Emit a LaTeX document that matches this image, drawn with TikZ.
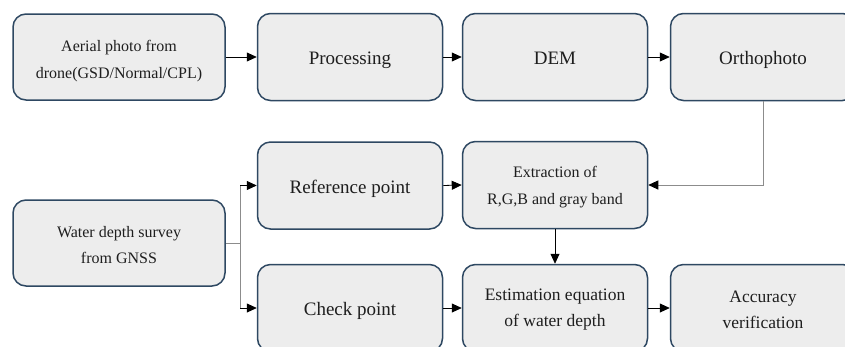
\documentclass[tikz,border=0pt]{standalone}
\usepackage{fontspec}
\setmainfont{Liberation Serif}
\usetikzlibrary{arrows.meta}
\definecolor{boxfill}{HTML}{EDEDED}
\definecolor{boxline}{HTML}{2E4862}
\definecolor{txt}{HTML}{1E1E1E}
\definecolor{lgray}{HTML}{8C8C8C}
\tikzset{
  stepbox/.style={draw=boxline, line width=1.5pt, fill=boxfill, rounded corners=13pt,
    minimum width=185pt, minimum height=87pt, inner sep=0pt, align=center, text=txt},
  widebox/.style={stepbox, minimum width=212pt, minimum height=86pt},
  txtnode/.style={inner sep=0pt, align=center, text=txt},
  bigtxt/.style={font=\fontsize{19}{24}\selectfont, text height=18pt, text depth=2.5pt},
  midtxt/.style={font=\fontsize{17.5}{26}\selectfont},
  smalltxt/.style={font=\fontsize{16}{26.5}\selectfont},
  arr/.style={draw=black, line width=0.8pt, -{Triangle[length=10pt,width=9pt]}},
  garr/.style={draw=lgray, line width=0.9pt, -{Triangle[length=10pt,width=9pt,fill=black,color=black]}},
  gline/.style={draw=lgray, line width=0.9pt}
}
\begin{document}
\begin{tikzpicture}[x=1pt,y=-1pt]
\useasboundingbox (0,0) rectangle (845,346);
\node[widebox] (aerial) at (119,57) {};
\node[txtnode, smalltxt] (aerialT) at ([yshift=-4pt]aerial.center) {Aerial photo from\\drone(GSD/Normal/CPL)};
\node[stepbox, bigtxt] (proc) at (350,57) {Processing};
\node[stepbox, bigtxt] (dem) at (555,57) {DEM};
\node[stepbox, bigtxt] (ortho) at (763,57) {Orthophoto};
\node[stepbox, bigtxt] (ref) at (350,185.5) {Reference point};
\node[stepbox] (extr) at (555,185) {};
\node[txtnode, smalltxt] (extrT) at ([yshift=-2pt]extr.center) {Extraction of\\R,G,B and gray band};
\node[widebox] (water) at (119,243) {};
\node[txtnode, smalltxt] (waterT) at ([yshift=-2pt]water.center) {Water depth survey\\from GNSS};
\node[stepbox, bigtxt] (check) at (350,308) {Check point};
\node[stepbox] (est) at (555,308) {};
\node[txtnode, midtxt] (estT) at ([yshift=-1.5pt]est.center) {Estimation equation\\of water depth};
\node[stepbox] (acc) at (763,308) {};
\node[txtnode, midtxt] (accT) at ([yshift=-1.5pt]acc.center) {Accuracy\\verification};
\coordinate (jm) at (240,243);
\coordinate (jt) at (240,185.5);
\coordinate (jb) at (240,308);
\coordinate (oc) at (763,185);
\draw[arr] (aerial.east) -- (proc.west);
\draw[arr] (proc.east) -- (dem.west);
\draw[arr] (dem.east) -- (ortho.west);
\draw[garr] (ortho.south) -- (oc) -- (extr.east);
\draw[gline] (water.east) -- (jm);
\draw[gline] (jt) -- (jb);
\draw[arr] (jt) -- (ref.west);
\draw[arr] (jb) -- (check.west);
\draw[arr] (ref.east) -- (extr.west);
\draw[arr] (extr.south) -- (est.north);
\draw[arr] (check.east) -- (est.west);
\draw[arr] (est.east) -- (acc.west);
\end{tikzpicture}
\end{document}
